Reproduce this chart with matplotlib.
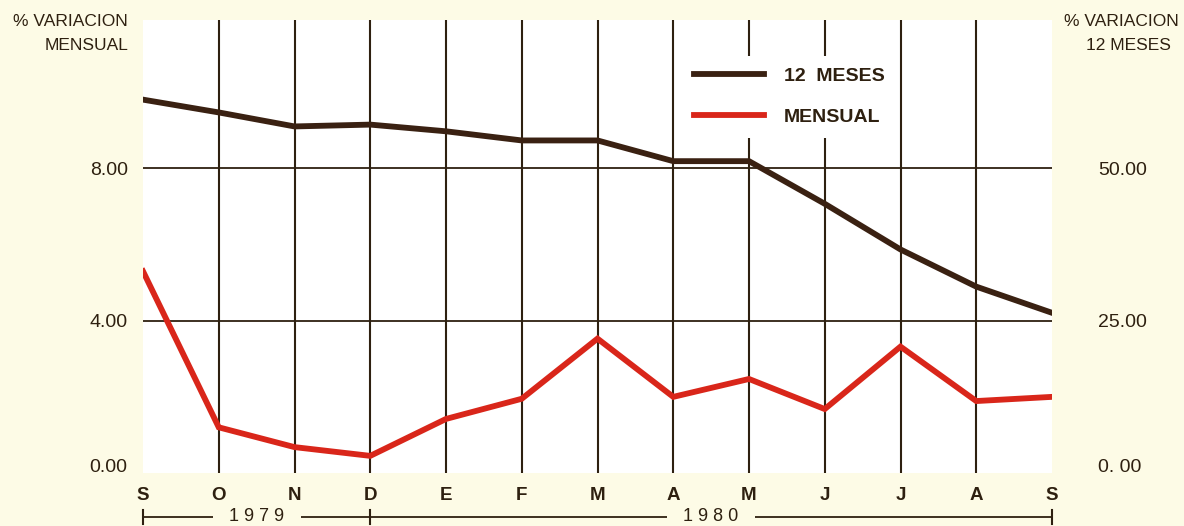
import matplotlib
matplotlib.use("Agg")
import matplotlib.pyplot as plt
import matplotlib.transforms as mtransforms

# -------- Data ----------
months = ["S", "O", "N", "D", "E", "F", "M", "A", "M", "J", "J", "A", "S"]
doce_meses = [61.3, 59.2, 56.9, 57.2, 56.1, 54.6, 54.6, 51.2, 51.2, 44.2, 36.7, 30.6, 26.3]
mensual = [5.3, 1.2, 0.68, 0.45, 1.42, 1.95, 3.53, 2.0, 2.47, 1.68, 3.32, 1.89, 2.0]
left_ticks = [0, 4, 8]
left_labels = ["0.00", "4.00", "8.00"]
right_ticks = [0, 25, 50]
right_labels = ["0. 00", "25.00", "50.00"]
# ------------------------

BG = "#fdfbe6"
INK = "#2e2010"
BROWN = "#3a2112"
RED = "#d9261a"

plt.rcParams["font.family"] = ["Liberation Sans", "DejaVu Sans"]

fig = plt.figure(figsize=(11.84, 5.26), dpi=100, facecolor=BG)
ax = fig.add_axes([143 / 1184, 53 / 526, 909 / 1184, 453 / 526])
ax.set_facecolor("white")
x = list(range(len(months)))

ax.set_xlim(0, len(months) - 1)
ax.set_ylim(0, 11.9)

# grid lines
for xi in x[1:-1]:
    ax.axvline(xi, color=INK, lw=1.5, zorder=1)
for yv in left_ticks[1:]:
    ax.axhline(yv, color=INK, lw=1.3, zorder=1)

ax2 = ax.twinx()
ax2.set_ylim(0, 11.9 * 6.25)

l1, = ax2.plot(x, doce_meses, color=BROWN, lw=4.2, solid_joinstyle="miter", zorder=3, label="12  MESES")
l2, = ax.plot(x, mensual, color=RED, lw=4.2, solid_joinstyle="miter", zorder=3, label="MENSUAL")

for a in (ax, ax2):
    for s in a.spines.values():
        s.set_visible(False)

ax.set_xticks(x)
ax.set_xticklabels(months, fontsize=13.5, fontweight="bold", color=INK)
ax.tick_params(axis="x", length=0, pad=10)
ax.set_yticks(left_ticks)
ax.set_yticklabels(left_labels, fontsize=14, color=INK)
ax.tick_params(axis="y", length=0, pad=11)
ax2.set_yticks(right_ticks)
ax2.set_yticklabels(right_labels, fontsize=14, color=INK)
ax2.tick_params(axis="y", length=0, pad=33)

# raise the 0.00 labels a bit like the original
up = mtransforms.ScaledTranslation(0, 8 / 100, fig.dpi_scale_trans)
ax.get_yticklabels()[0].set_transform(ax.get_yticklabels()[0].get_transform() + up)
ax2.get_yticklabels()[0].set_transform(ax2.get_yticklabels()[0].get_transform() + up)

# year brackets
tr = mtransforms.blended_transform_factory(ax.transData, ax.transAxes)
yb = -0.097
ax.plot([0, len(months) - 1], [yb, yb], color=INK, lw=1.3, transform=tr, clip_on=False)
for xt in [0, 3, len(months) - 1]:
    ax.plot([xt, xt], [yb - 0.015, yb + 0.015], color=INK, lw=1.5, transform=tr, clip_on=False)
ax.text(1.5, yb, "   1 9 7 9   ", transform=tr, ha="center", va="center", fontsize=13,
        color=INK, bbox=dict(facecolor=BG, edgecolor="none", pad=1))
ax.text(7.5, yb, "   1 9 8 0   ", transform=tr, ha="center", va="center", fontsize=13,
        color=INK, bbox=dict(facecolor=BG, edgecolor="none", pad=1))

# axis headers
fig.text(128 / 1184, 1 - 21 / 526, "% VARIACION", fontsize=12.5, color=INK, va="center", ha="right")
fig.text(128 / 1184, 1 - 45 / 526, "MENSUAL", fontsize=12.5, color=INK, va="center", ha="right")
fig.text(1121 / 1184, 1 - 21 / 526, "% VARIACION", fontsize=12.5, color=INK, va="center", ha="center")
fig.text(1128 / 1184, 1 - 45 / 526, "12 MESES", fontsize=12.5, color=INK, va="center", ha="center")

leg = ax2.legend(handles=[l1, l2], loc="upper left", bbox_to_anchor=(0.583, 0.942),
                 frameon=True, facecolor="white", edgecolor="none", framealpha=1,
                 handlelength=3.6, handletextpad=1.0, labelspacing=1.2, borderpad=0.6,
                 prop={"size": 14, "weight": "bold"}, fancybox=False)
for t in leg.get_texts():
    t.set_color(INK)
leg.set_zorder(5)

plt.savefig("out.png", dpi=100, facecolor=BG)
